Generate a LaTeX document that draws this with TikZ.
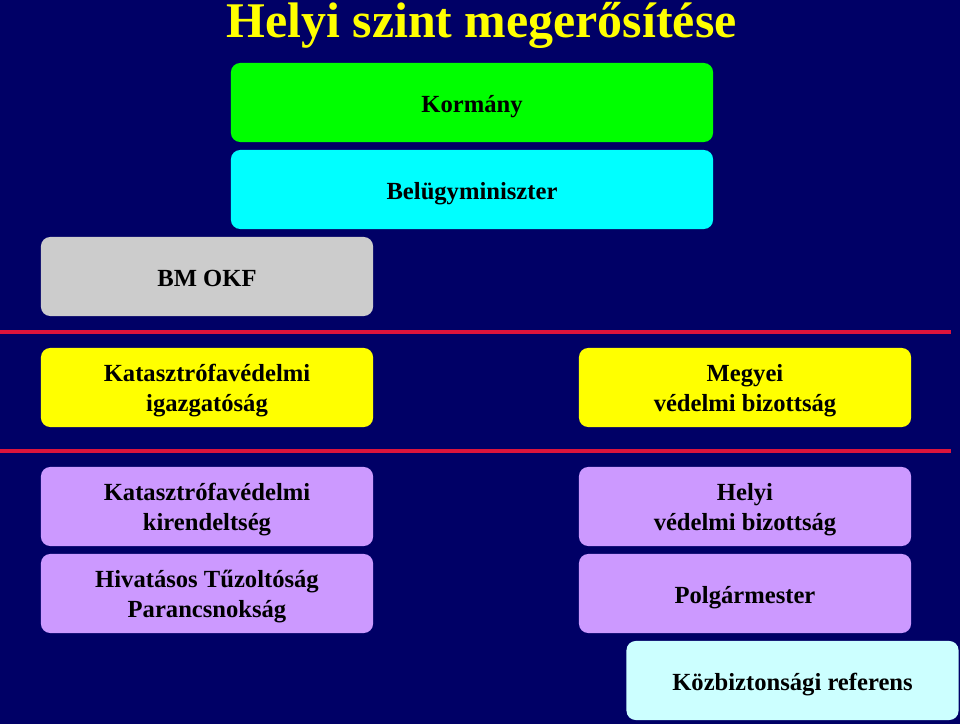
\documentclass[tikz,border=0pt]{standalone}
\usepackage{fontspec}
\setmainfont{Liberation Serif}
\usepackage{tikz}
\usetikzlibrary{calc,positioning}

\definecolor{navy}{RGB}{0,0,102}
\definecolor{sepred}{RGB}{220,20,60}
\definecolor{kgreen}{RGB}{0,255,0}
\definecolor{kcyan}{RGB}{0,255,255}
\definecolor{kgray}{RGB}{204,204,204}
\definecolor{kyellow}{RGB}{255,255,0}
\definecolor{klilac}{RGB}{204,153,255}
\definecolor{kpale}{RGB}{204,255,255}

\tikzset{
  box/.style={rounded corners=0.23cm, minimum width=8.3cm, minimum height=1.975cm,
    align=center, text=black, inner sep=0pt,
    font=\bfseries\fontsize{17.5}{21.3}\selectfont,
    execute at begin node={\rule[-4pt]{0pt}{22.6pt}}},
  twoline/.style={execute at begin node={\rule[-4pt]{0pt}{42pt}}},
  widebox/.style={box, minimum width=12.05cm},
  sepline/.style={sepred, line width=2.5pt}
}

\begin{document}
\begin{tikzpicture}[x=0.025cm, y=-0.025cm]
\useasboundingbox (0,0) rectangle (960,724);
\fill[navy] (0,0) rectangle (960,724);
%\draw[help lines, step=40, white!50!gray] (0,0) grid (960,724);

\node[anchor=base, text=kyellow, inner sep=0pt, font=\bfseries\fontsize{35.5}{40}\selectfont] (title) at (481.5,37.5) {Helyi szint megerősítése};

% top level
\node[widebox, fill=kgreen] (kormany) at (472,102.5) {Kormány};
\node[widebox, fill=kcyan] (belugy) at (472,189.5) {Belügyminiszter};
\node[box, fill=kgray] (bmokf) at (207,276.5) {BM OKF};

% county level
\coordinate (sepa) at (0,332);
\coordinate (sepb) at (951,332);
\draw[sepline] (sepa) -- (sepb);
\node[box, twoline, fill=kyellow] (igazg) at (207,387.5) {Katasztrófavédelmi\\igazgatóság};
\node[box, twoline, fill=kyellow] (megyei) at (745,387.5) {Megyei\\védelmi bizottság};

% local level
\coordinate (sepc) at (0,451);
\coordinate (sepd) at (951,451);
\draw[sepline] (sepc) -- (sepd);
\node[box, twoline, fill=klilac] (kirend) at (207,506.5) {Katasztrófavédelmi\\kirendeltség};
\node[box, twoline, fill=klilac] (helyi) at (745,506.5) {Helyi\\védelmi bizottság};
\node[box, twoline, fill=klilac] (hivatasos) at (207,593.5) {Hivatásos Tűzoltóság\\Parancsnokság};
\node[box, fill=klilac] (polgar) at (745,593.5) {Polgármester};
\node[box, fill=kpale] (kozbiz) at (792.5,680.5) {Közbiztonsági referens};

\end{tikzpicture}
\end{document}
